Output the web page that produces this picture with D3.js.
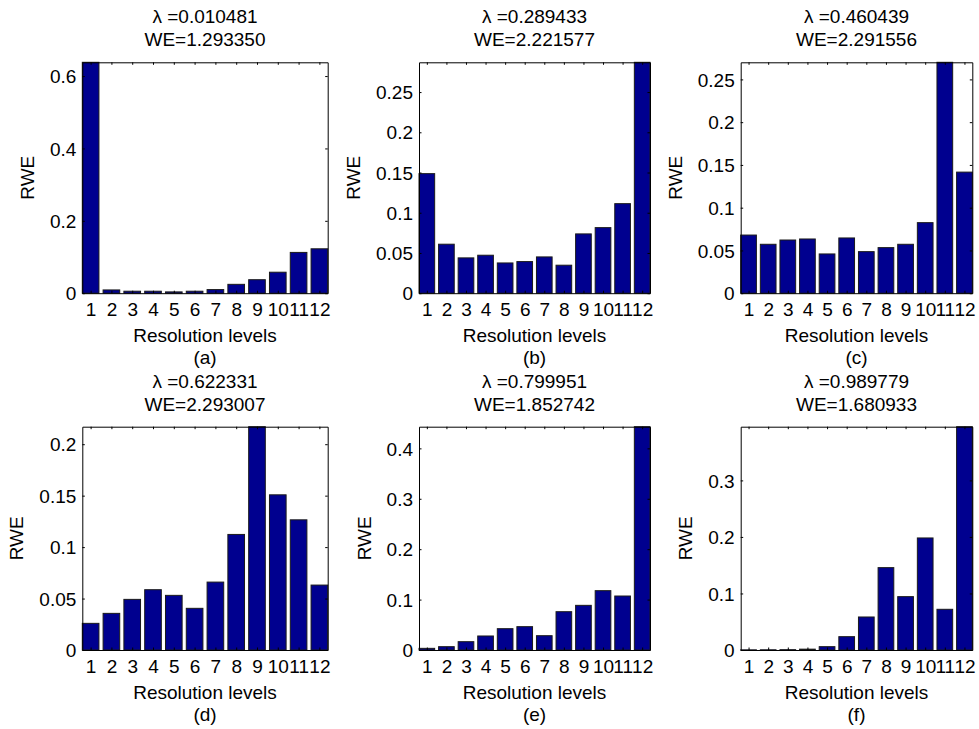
<!DOCTYPE html>
<html>
<head>
<meta charset="utf-8">
<script src="https://cdn.jsdelivr.net/npm/d3@7"></script>
<style>
  body { margin: 0; background: #fff; }
  text { font-family: "Liberation Sans", Arial, sans-serif; font-size: 19px; fill: #000; }
</style>
</head>
<body>
<div id="chart"></div>
<script>
var width = 979;
var height = 729;

// data
var levels = [1, 2, 3, 4, 5, 6, 7, 8, 9, 10, 11, 12];
var panelLetters = ['(a)', '(b)', '(c)', '(d)', '(e)', '(f)'];
var lambdaLabels = ['0.010481', '0.289433', '0.460439', '0.622331', '0.799951', '0.989779'];
var weLabels = ['1.293350', '2.221577', '2.291556', '2.293007', '1.852742', '1.680933'];

var rweA = [0.638, 0.009, 0.0055, 0.0055, 0.0036, 0.0055, 0.010, 0.0245, 0.0373, 0.058, 0.1127, 0.1227];
var rweB = [0.1486, 0.0609, 0.0439, 0.0472, 0.0376, 0.0393, 0.0451, 0.0348, 0.0737, 0.0815, 0.1113, 0.287];
var rweC = [0.068, 0.0572, 0.0622, 0.0634, 0.0459, 0.0646, 0.0486, 0.0533, 0.0572, 0.0825, 0.270, 0.1416];
var rweD = [0.0259, 0.0356, 0.0492, 0.0586, 0.0531, 0.0405, 0.066, 0.1123, 0.217, 0.1508, 0.1265, 0.0631];
var rweE = [0.0033, 0.0066, 0.0165, 0.0278, 0.0423, 0.0463, 0.0284, 0.076, 0.0886, 0.1177, 0.1071, 0.443];
var rweF = [0.0003, 0.0004, 0.0006, 0.0015, 0.0059, 0.0236, 0.0584, 0.1457, 0.0944, 0.1982, 0.072, 0.395];

var ticksA = [0, 0.2, 0.4, 0.6];
var ticksB = [0, 0.05, 0.1, 0.15, 0.2, 0.25];
var ticksC = [0, 0.05, 0.1, 0.15, 0.2, 0.25];
var ticksD = [0, 0.05, 0.1, 0.15, 0.2];
var ticksE = [0, 0.1, 0.2, 0.3, 0.4];
var ticksF = [0, 0.1, 0.2, 0.3];

var allValues = [rweA, rweB, rweC, rweD, rweE, rweF];
var allTicks = [ticksA, ticksB, ticksC, ticksD, ticksE, ticksF];

// axes boxes (pixels)
var cols = [[82.3, 327.7], [419, 650], [740.7, 972.3]];
var rows = [[62.3, 293.2], [426.7, 650]];

var svg = d3.select("#chart").append("svg")
  .attr("width", width)
  .attr("height", height);

allValues.forEach(function(values, k) {
  var c = cols[k % 3];
  var r = rows[Math.floor(k / 3)];
  var g = svg.append("g");

  var x = d3.scaleLinear()
    .domain([0.6, 12.4])
    .range([c[0], c[1]]);

  var y = d3.scaleLinear()
    .domain([0, d3.max(values)])
    .range([r[1], r[0]]);

  // bars
  g.selectAll("rect.bar")
    .data(values)
    .enter().append("rect")
    .attr("class", "bar")
    .attr("x", function(d, i) { return x(levels[i] - 0.4); })
    .attr("width", function(d, i) { return x(levels[i] + 0.4) - x(levels[i] - 0.4); })
    .attr("y", function(d) { return y(d); })
    .attr("height", function(d) { return y(0) - y(d); })
    .attr("fill", "#00008f")
    .attr("stroke", "#1a1a1a")
    .attr("stroke-width", 1);

  // axes (ticks inward, matlab style)
  var bottom = g.append("g")
    .attr("transform", "translate(0," + r[1] + ")")
    .call(d3.axisBottom(x).tickValues(levels).tickSizeInner(-2.5).tickSizeOuter(0).tickPadding(10));
  var top = g.append("g")
    .attr("transform", "translate(0," + r[0] + ")")
    .call(d3.axisTop(x).tickValues(levels).tickSizeInner(-2.5).tickSizeOuter(0).tickFormat(""));
  var left = g.append("g")
    .attr("transform", "translate(" + c[0] + ",0)")
    .call(d3.axisLeft(y).tickValues(allTicks[k]).tickFormat(function(d) { return String(d); })
      .tickSizeInner(-2.5).tickSizeOuter(0).tickPadding(6));
  var right = g.append("g")
    .attr("transform", "translate(" + c[1] + ",0)")
    .call(d3.axisRight(y).tickValues(allTicks[k]).tickSizeInner(-2.5).tickSizeOuter(0).tickFormat(""));

  [bottom, top, left, right].forEach(function(a) {
    a.selectAll("path, line").attr("stroke", "#000").attr("stroke-width", 1);
    a.selectAll("text").attr("font-size", 19).attr("font-family", "Liberation Sans, Arial, sans-serif").attr("fill", "#000");
  });
  bottom.selectAll("text").attr("dy", null).attr("y", 23).attr("dominant-baseline", "alphabetic");
  left.selectAll("text").attr("dy", "0.35em");

  var maxW = 0;
  left.selectAll("text").each(function() {
    maxW = Math.max(maxW, this.getComputedTextLength());
  });

  var cx = (c[0] + c[1]) / 2;

  // titles
  g.append("text")
    .attr("x", cx).attr("y", r[0] - 39)
    .attr("text-anchor", "middle")
    .text("\u03bb =" + lambdaLabels[k]);
  g.append("text")
    .attr("x", cx).attr("y", r[0] - 16)
    .attr("text-anchor", "middle")
    .text("WE=" + weLabels[k]);

  // axis labels
  g.append("text")
    .attr("x", cx).attr("y", r[1] + 49)
    .attr("text-anchor", "middle")
    .text("Resolution levels");
  g.append("text")
    .attr("x", cx).attr("y", r[1] + 71)
    .attr("text-anchor", "middle")
    .text(panelLetters[k]);

  var lx = c[0] - 6 - maxW - 16;
  var ly = (r[0] + r[1]) / 2;
  g.append("text")
    .attr("transform", "translate(" + lx + "," + ly + ") rotate(-90)")
    .attr("text-anchor", "middle")
    .text("RWE");
});
</script>
</body>
</html>
